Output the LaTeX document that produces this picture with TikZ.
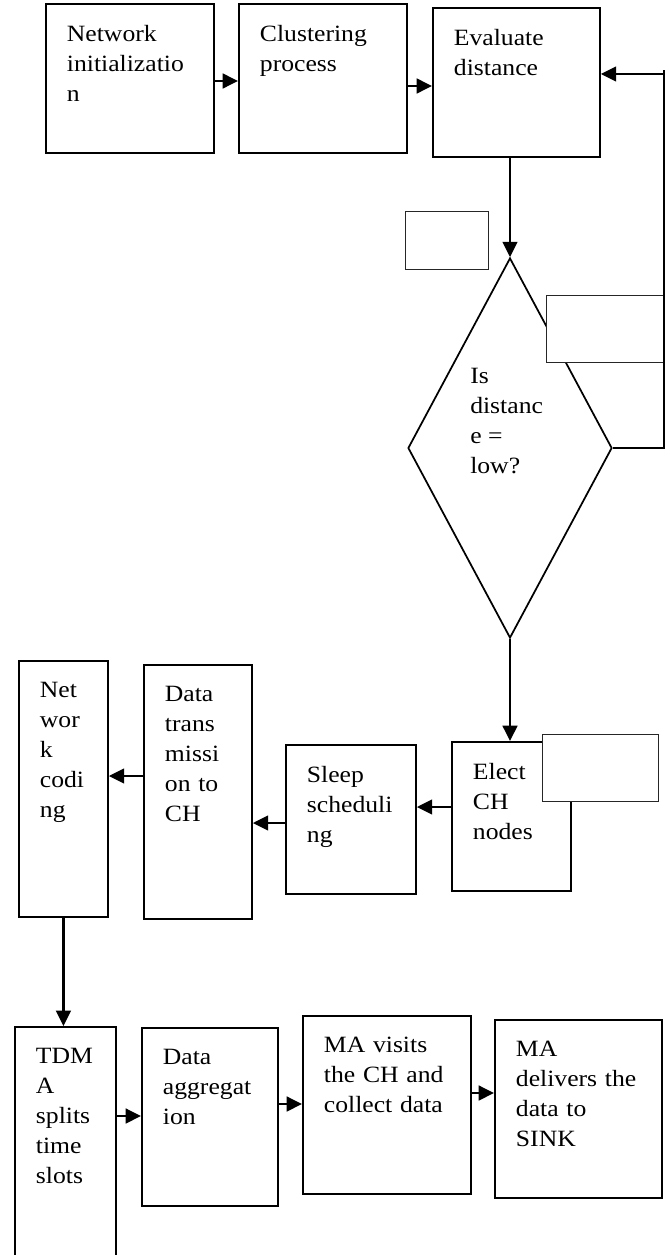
\documentclass[tikz,border=0pt]{standalone}
\usepackage{fontspec}
\setmainfont{Liberation Serif}[FakeStretch=1.1]
\usepackage{tikz}
\usetikzlibrary{arrows.meta, shapes.geometric, calc}

\newdimen\boxht

\begin{document}
\begin{tikzpicture}[
        x=0.75pt, y=-0.75pt,
        % Process boxes: #1 = width, #2 = height (px), text kept at the top
        stage/.style 2 args={rectangle, draw=black, line width=1.4pt,
            anchor=north west, inner xsep=15.75pt, inner ysep=16pt,
            text width={#1*0.75pt-31.5pt}, align=left,
            font=\fontsize{17.5}{22.5}\selectfont,
            execute at begin node={\pgfmathsetlength\boxht{#2*0.75pt-32pt}\vbox to\boxht\bgroup},
            execute at end node={\vfil\egroup}},
        % Empty boxes, thin border, white fill
        blank/.style 2 args={rectangle, draw=black!85, line width=0.9pt,
            fill=white, anchor=north west, inner sep=0pt,
            minimum width={#1*0.75pt}, minimum height={#2*0.75pt}},
        decision/.style={diamond, draw=black, line width=1.3pt, inner sep=0pt,
            minimum width=153pt, minimum height=285pt},
        arr/.style={line width=1.9pt, -{Triangle[length=11.5pt, width=11pt]}},
        loopline/.style={line width=1pt},
    ]

        \useasboundingbox (0,0) rectangle (669,1255);

        % === Top row ===
        \node[stage={168}{149}] (init) at (45,3) {Network\\initializatio\\n};
        \node[stage={168}{149}] (clust) at (238,3) {Clustering\\process};
        \node[stage={167}{149}] (evald) at (432,7) {Evaluate\\distance};

        % === Decision ===
        \node[decision] (dec) at (510,448) {};
        \node[anchor=north west, inner sep=0pt, align=left,
            font=\fontsize{17.5}{22.5}\selectfont] (dectxt)
            at ($(dec.center)+(-40,-80)$) {Is\\distanc\\e =\\low?};

        % === Middle row (right to left) ===
        \node[stage={119}{149}] (elect) at (451,741) {Elect\\CH\\nodes};
        \node[stage={130}{149}] (sleep) at (285,744) {Sleep\\scheduli\\ng};
        \node[stage={108}{254}] (trans) at (143,664) {Data\\trans\\missi\\on to\\CH};
        \node[stage={89}{256}] (netcod) at (18,660) {Net\\wor\\k\\codi\\ng};

        % === Bottom row ===
        \node[stage={101}{245}] (tdma) at (14,1026) {TDM\\A\\splits\\time\\slots};
        \node[stage={136}{178}] (agg) at (141,1027) {Data\\aggregat\\ion};
        \node[stage={168}{178}] (visits) at (302,1015) {MA visits\\the CH and\\collect data};
        \node[stage={167}{178}] (deliv) at (494,1019) {MA\\delivers the\\data to\\SINK};

        % === Empty boxes ===
        \node[blank={83}{58}] (blankA) at (405,211) {};
        \node[blank={117}{67}] (blankB) at (546,295) {};
        \node[blank={116}{67}] (blankC) at (542,734) {};

        % === Connectors ===
        \draw[arr] ($(init.north east)+(0,78)$) -- ($(clust.north west)+(0,78)$);
        \draw[arr] ($(clust.north east)+(0,83)$) -- ($(evald.north west)+(0,79)$);
        \draw[arr] (dec.north |- evald.south) -- (dec.north);

        % loop back when the distance is not low
        \coordinate (fbtop) at (664,74);
        \draw[loopline] (dec.east) -- (dec.east -| fbtop) -- ($(fbtop)+(0,-4)$);
        \draw[arr] (fbtop) -- (fbtop -| evald.east);

        \draw[arr] (dec.south) -- (dec.south |- elect.north);
        \draw[arr] ($(elect.north west)+(0,66)$) -- ($(sleep.north east)+(0,63)$);
        \draw[arr] ($(sleep.north west)+(0,79)$) -- ($(trans.north east)+(0,159)$);
        \draw[arr] ($(trans.north west)+(0,112)$) -- ($(netcod.north east)+(0,116)$);
        \draw[arr] (netcod.south) -- (netcod.south |- tdma.north);

        \draw[arr] ($(tdma.north east)+(0,90)$) -- ($(agg.north west)+(0,89)$);
        \draw[arr] ($(agg.north east)+(0,77)$) -- ($(visits.north west)+(0,89)$);
        \draw[arr] ($(visits.north east)+(0,78)$) -- ($(deliv.north west)+(0,74)$);

    \end{tikzpicture}
\end{document}
